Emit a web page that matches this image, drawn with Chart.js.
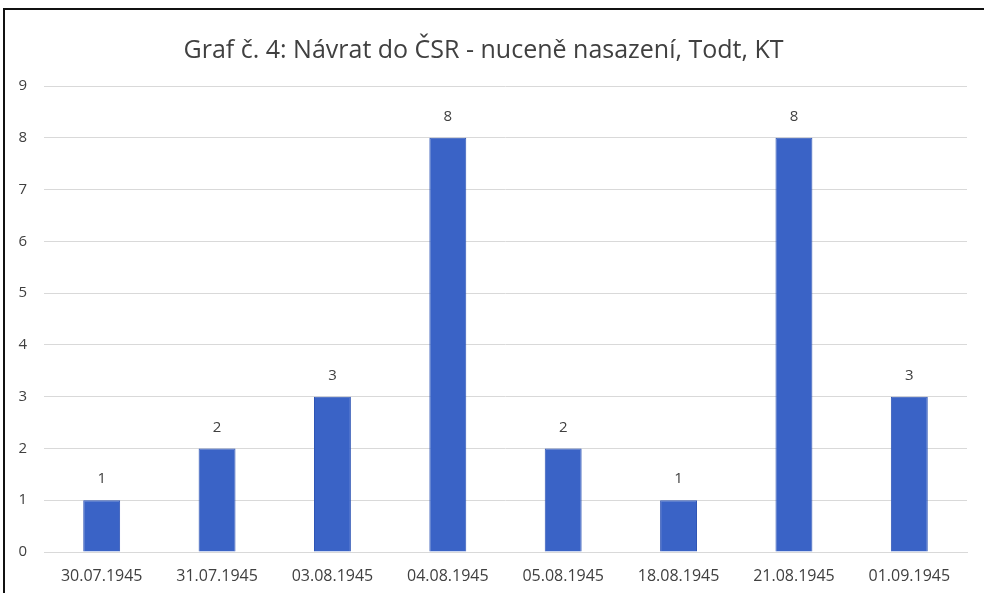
<!DOCTYPE html>
<html>
<head>
<meta charset="utf-8">
<script src="https://cdn.jsdelivr.net/npm/chart.js@4"></script>
<style>
html,body{margin:0;padding:0;background:#fff;}
#wrap{position:relative;width:984px;height:593px;overflow:hidden;}
#frameTop{position:absolute;left:3px;top:8px;width:981px;height:2px;background:#111;}
#frameLeft{position:absolute;left:3px;top:8px;width:2px;height:585px;background:#111;}
canvas{position:absolute;left:0;top:0;}
</style>
</head>
<body>
<div id="wrap">
<canvas id="c" width="984" height="593"></canvas>
<div id="frameTop"></div>
<div id="frameLeft"></div>
</div>
<script>
const titleText = 'Graf č. 4: Návrat do ČSR - nuceně nasazení, Todt, KT';
const categories = ['30.07.1945','31.07.1945','03.08.1945','04.08.1945','05.08.1945','18.08.1945','21.08.1945','01.09.1945'];
const values = [1, 2, 3, 8, 2, 1, 8, 3];
const yTicks = [0,1,2,3,4,5,6,7,8,9];

const valueLabels = {
  id: 'valueLabels',
  afterDatasetsDraw(chart) {
    const ctx = chart.ctx;
    const meta = chart.getDatasetMeta(0);
    ctx.save();
    ctx.font = '15px "Open Sans", sans-serif';
    ctx.fillStyle = '#404040';
    ctx.textAlign = 'center';
    ctx.textBaseline = 'middle';
    meta.data.forEach((bar, i) => {
      ctx.fillText(String(values[i]), bar.x, bar.y - 21);
    });
    ctx.restore();
  }
};

new Chart(document.getElementById('c'), {
  type: 'bar',
  data: {
    labels: categories,
    datasets: [{
      data: values,
      backgroundColor: '#3a63c6',
      borderColor: '#2f55b5',
      borderWidth: 1,
      categoryPercentage: 1,
      barPercentage: 0.32
    }]
  },
  options: {
    responsive: false,
    animation: false,
    devicePixelRatio: 1,
    layout: { padding: { left: 0, right: 17, top: 0, bottom: 0 } },
    plugins: {
      legend: { display: false },
      tooltip: { enabled: false },
      title: {
        display: true,
        text: titleText,
        color: '#404040',
        font: { family: '"Open Sans", sans-serif', size: 25, weight: 'normal' },
        padding: { top: 36, bottom: 20 }
      }
    },
    scales: {
      x: {
        grid: { display: false, drawTicks: false },
        border: { display: true, color: '#d9d9d9' },
        ticks: { color: '#404040', font: { family: '"Open Sans", sans-serif', size: 16 }, padding: 15, maxRotation: 0 },
        afterFit(scale) { scale.height = 41; }
      },
      y: {
        min: 0, max: 9,
        afterBuildTicks(scale) { scale.ticks = yTicks.map(v => ({ value: v })); },
        grid: { color: '#d9d9d9', drawTicks: false },
        border: { display: false },
        ticks: { color: '#404040', font: { family: '"Open Sans", sans-serif', size: 15 }, padding: 17 },
        afterFit(scale) { scale.width = 44; }
      }
    }
  },
  plugins: [valueLabels]
});
</script>
</body>
</html>
